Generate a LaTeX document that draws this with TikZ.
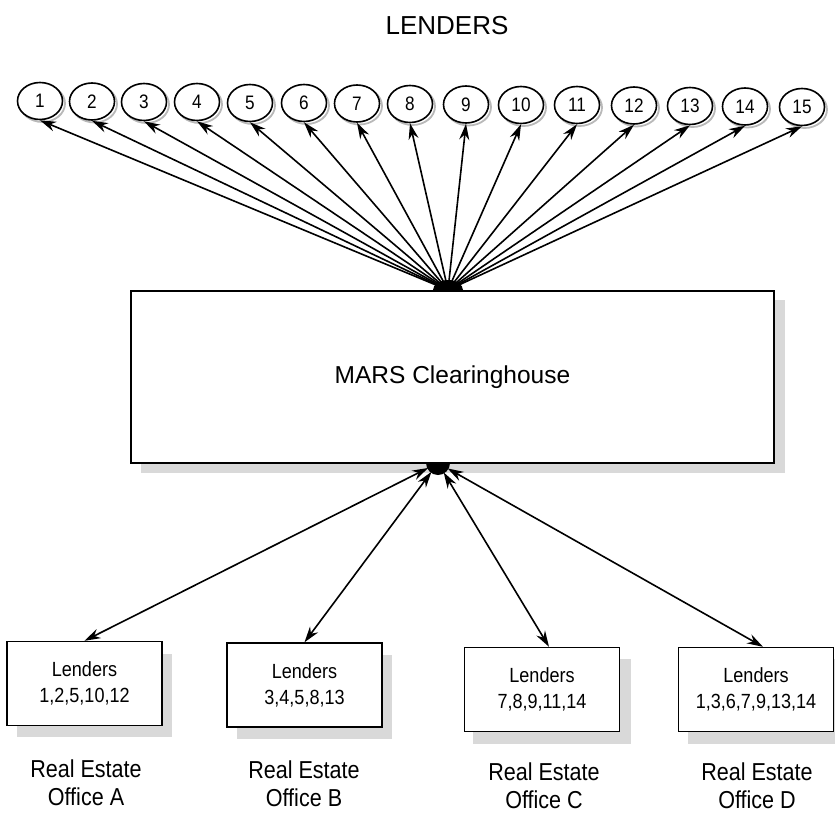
\documentclass[tikz,border=0pt]{standalone}
\usepackage{fontspec}
\setmainfont{Liberation Sans}
\newfontfamily\narrowfont{Liberation Sans}[FakeStretch=0.88]
\usetikzlibrary{shapes.geometric,arrows.meta}
\begin{document}
\begin{tikzpicture}[x=1pt,y=-1pt,
  >={Stealth[length=16pt,width=10pt]},
  lend/.style={ellipse,draw,line width=1.6pt,fill=white,minimum width=45pt,minimum height=37pt,inner sep=0pt,font=\narrowfont\fontsize{19.5}{21}\selectfont},
  lshadow/.style={ellipse,draw=gray!55,line width=1.8pt,minimum width=45pt,minimum height=37pt,inner sep=0pt},
  office/.style={draw,line width=1.4pt,fill=white,minimum width=155pt,minimum height=84pt,inner sep=0pt,align=center,font=\narrowfont\fontsize{20.5}{26}\selectfont},
  shade/.style={fill=gray!30},
  conn/.style={line width=1.6pt},
  caption/.style={align=center,font=\narrowfont\fontsize{24.5}{28}\selectfont}]
\useasboundingbox (0,0) rectangle (835,814);

\node[font=\fontsize{26}{30}\selectfont] (title) at (447,26) {LENDERS};

% lender circles
\foreach \i/\x/\y in {1/40/101,2/92/101.5,3/144/102,4/197/102,5/250/103,6/304/103,7/357/103.5,8/410/104,9/466/104.5,10/521/105,11/577/105,12/634/105.5,13/690/106,14/745/106.5,15/802/107}{
  \node[lshadow] (s\i) at (\x+2.5,\y+2.5) {};
  \node[lend] (c\i) at (\x,\y) {\i};
}

% hubs
\coordinate (hubT) at (448,290);
\coordinate (hubB) at (438,463);

\foreach \i in {1,...,15}{
  \draw[conn,->] (hubT) -- (c\i.south);
}

% shadows
\fill[shade] (141,300) rectangle (785,473);
\fill[shade] (17,654) rectangle (172,737);
\fill[shade] (237,655) rectangle (392,739);
\fill[shade] (473,659) rectangle (631,744);
\fill[shade] (688,659) rectangle (845,744);

% blobs
\fill (hubT) ellipse[x radius=15pt,y radius=10pt];
\fill (hubB) ellipse[x radius=12pt,y radius=12pt];

% central box
\node[draw,line width=1.5pt,fill=white,minimum width=643pt,minimum height=172pt,inner sep=0pt,font=\fontsize{24.5}{28}\selectfont] (mars) at (452.5,377) {MARS Clearinghouse};

% offices
\node[office] (A) at (84.5,683.5) {Lenders\\1,2,5,10,12};
\node[office] (B) at (304.5,685) {Lenders\\3,4,5,8,13};
\node[office] (C) at (542,689.5) {Lenders\\7,8,9,11,14};
\node[office] (D) at (756,689.5) {Lenders\\1,3,6,7,9,13,14};

\draw[conn,<->,shorten <=11pt] (hubB) -- (A.north);
\draw[conn,<->,shorten <=11pt] (hubB) -- (B.north);
\draw[conn,<->,shorten <=11pt] (hubB) -- ([xshift=7pt]C.north);
\draw[conn,<->,shorten <=11pt] (hubB) -- ([xshift=7pt]D.north);

\node[caption] (la) at (86,783) {Real Estate\\Office A};
\node[caption] (lb) at (304,784) {Real Estate\\Office B};
\node[caption] (lc) at (544,786) {Real Estate\\Office C};
\node[caption] (ld) at (757,786) {Real Estate\\Office D};
\end{tikzpicture}
\end{document}
